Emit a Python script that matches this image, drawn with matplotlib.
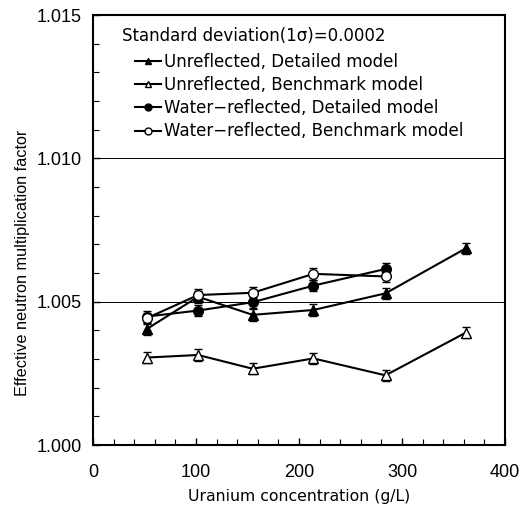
import matplotlib
matplotlib.use("Agg")
import matplotlib.pyplot as plt
from matplotlib.ticker import MultipleLocator, FormatStrFormatter

plt.rcParams['font.family'] = ['Liberation Sans', 'DejaVu Sans']

x_unref = [52, 102, 155, 214, 284, 362]
unref_detailed = [1.00404, 1.00517, 1.00454, 1.00471, 1.00529, 1.00686]
unref_bench = [1.00305, 1.00314, 1.00266, 1.00302, 1.00243, 1.00392]
x_water = [52, 102, 155, 214, 284]
water_detailed = [1.00448, 1.00469, 1.00498, 1.00556, 1.00614]
water_bench = [1.00442, 1.00523, 1.00531, 1.00597, 1.00588]
sigma = 0.0002

labels = ["Unreflected, Detailed model", "Unreflected, Benchmark model",
          "Water\u2212reflected, Detailed model", "Water\u2212reflected, Benchmark model"]
legend_title = "Standard deviation(1\u03c3)=0.0002"

W, H = 526, 508
fig = plt.figure(figsize=(W / 100, H / 100), dpi=100)
ax = fig.add_axes([93 / W, 1 - 445 / H, 412 / W, 430 / H])

series = [
    (x_unref, unref_detailed, '^', 'black'),
    (x_unref, unref_bench, '^', 'white'),
    (x_water, water_detailed, 'o', 'black'),
    (x_water, water_bench, 'o', 'white'),
]
handles = []
for (xs, ys, m, fc), lab in zip(series, labels):
    ax.errorbar(xs, ys, yerr=sigma, fmt='-', marker=m, color='black',
                mfc=fc, mec='black', ms=7, lw=1.5, elinewidth=1.0,
                capsize=3, capthick=1.0, zorder=3)
    handles.append(ax.plot([], [], '-', marker=m, color='black', mfc=fc,
                           mec='black', ms=5, lw=1.5)[0])

ax.set_xlim(0, 400)
ax.set_ylim(1.000, 1.015)
ax.xaxis.set_major_locator(MultipleLocator(100))
ax.xaxis.set_minor_locator(MultipleLocator(20))
ax.yaxis.set_major_locator(MultipleLocator(0.005))
ax.yaxis.set_minor_locator(MultipleLocator(0.001))
ax.yaxis.set_major_formatter(FormatStrFormatter('%.3f'))
ax.tick_params(which='both', direction='in', top=False, right=False)
ax.tick_params(which='major', length=5, width=1, labelsize=13)
ax.tick_params(axis='x', which='major', pad=14)
ax.tick_params(axis='y', which='major', pad=8)
ax.tick_params(which='minor', length=4, width=0.8)
for s in ax.spines.values():
    s.set_linewidth(1.5)
for yv in [1.005, 1.010]:
    ax.axhline(yv, color='black', lw=0.7, zorder=1)

ax.set_xlabel("Uranium concentration (g/L)", fontsize=11.3, family=['DejaVu Sans'])
ax.xaxis.set_label_coords(0.5, -(489 - 445) / 430, transform=ax.transAxes)
ax.set_ylabel("Effective neutron multiplication factor", fontsize=11.7)
ax.yaxis.set_label_coords(-(93 - 30) / 412, (445 - 263) / 430, transform=ax.transAxes)

fig.text(121.7 / W, 1 - 35.7 / H, legend_title, fontsize=12,
         family=['DejaVu Sans'], ha='left', va='center')
leg = fig.legend(handles, labels, loc='upper left',
                 bbox_to_anchor=(135 / W, 1 - 53 / H), frameon=False,
                 prop={'family': 'DejaVu Sans', 'size': 12},
                 handlelength=1.55, handletextpad=0.2, labelspacing=0.31,
                 borderpad=0, borderaxespad=0)

fig.savefig("out.png", dpi=100)
